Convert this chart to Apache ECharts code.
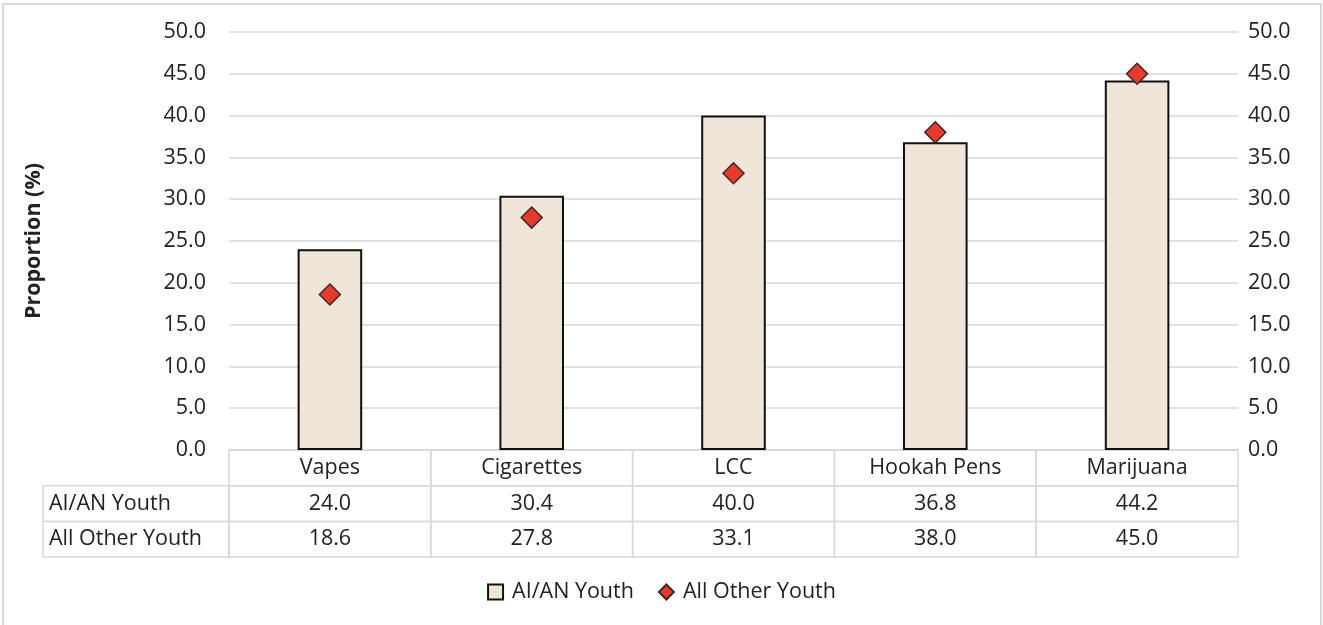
<!DOCTYPE html>
<html>
<head>
<meta charset="utf-8">
<script src="https://cdn.jsdelivr.net/npm/echarts@6/dist/echarts.min.js"></script>
<style>
  html, body { margin: 0; padding: 0; background: #fff; }
  #chart { width: 1323px; height: 625px; }
</style>
</head>
<body>
<div id="chart"></div>
<script>
// Substance categories and the two youth groups' proportions (%)
const categories = ['Vapes', 'Cigarettes', 'LCC', 'Hookah Pens', 'Marijuana'];
const aianYouth = [24.0, 30.4, 40.0, 36.8, 44.2];
const otherYouth = [18.6, 27.8, 33.1, 38.0, 45.0];
const seriesNames = ['AI/AN Youth', 'All Other Youth'];
const yMin = 0, yMax = 50, yStep = 5;

const FONT = 'Open Sans';
const TEXT = '#222222';
const LINE = '#d9d9d9';
const FS = 21.5;

const chart = echarts.init(document.getElementById('chart'), null, { renderer: 'canvas' });

const valueAxis = (pos, withGrid) => ({
  type: 'value', position: pos, min: yMin, max: yMax, interval: yStep,
  axisLine: { show: false }, axisTick: { show: false },
  axisLabel: {
    formatter: v => v.toFixed(1), color: TEXT, fontFamily: FONT, fontSize: FS,
    margin: pos === 'left' ? 23 : 10
  },
  splitLine: { show: withGrid, lineStyle: { color: LINE, width: 1.5 } }
});

chart.setOption({
  animation: false,
  textStyle: { fontFamily: FONT },
  grid: { left: 229, right: 85, top: 32, height: 418 },
  xAxis: {
    type: 'category', data: categories,
    axisLine: { show: false }, axisTick: { show: false }, axisLabel: { show: false }
  },
  yAxis: [
    Object.assign(valueAxis('left', true), {
      name: 'Proportion (%)', nameLocation: 'middle', nameGap: 184,
      nameTextStyle: { fontFamily: FONT, fontSize: FS, fontWeight: 'bold', color: TEXT }
    }),
    valueAxis('right', false)
  ],
  legend: {
    top: 576, left: 'center', itemWidth: 15, itemHeight: 15, itemGap: 24,
    textStyle: { fontFamily: FONT, fontSize: FS, color: TEXT, padding: [0, 0, 0, 4] },
    data: [
      { name: seriesNames[0], icon: 'rect' },
      { name: seriesNames[1], icon: 'diamond' }
    ]
  },
  series: [
    {
      name: seriesNames[0], type: 'bar', data: aianYouth, barWidth: '32%',
      itemStyle: { color: '#efe6d9', borderColor: '#111111', borderWidth: 2 },
      z: 2
    },
    {
      name: seriesNames[1], type: 'scatter', data: otherYouth,
      symbol: 'diamond', symbolSize: 21,
      itemStyle: { color: '#e8392a', borderColor: '#3a2a28', borderWidth: 1.5, opacity: 1 },
      z: 5
    }
  ]
});

// Data table under the plot, aligned to the category axis
function buildTable() {
  const centers = categories.map(c => chart.convertToPixel({ xAxisIndex: 0 }, c));
  const band = centers[1] - centers[0];
  const left = centers[0] - band / 2;
  const top = chart.convertToPixel({ yAxisIndex: 0 }, yMin);
  const rowH = 35.7;
  const labelLeft = 43;
  const els = [];
  const lineStyle = { stroke: LINE, lineWidth: 1.5, fill: null };
  const cell = (x, y, w, h) => els.push({
    type: 'rect', shape: { x, y, width: w, height: h }, style: lineStyle, silent: true
  });
  const txt = (x, y, s, align) => els.push({
    type: 'text', x, y, silent: true,
    style: { text: s, fill: TEXT, font: FS + 'px "' + FONT + '"', align: align, verticalAlign: 'middle' }
  });
  // header row with category names
  centers.forEach((cx, i) => {
    cell(cx - band / 2, top, band, rowH);
    txt(cx, top + rowH / 2, categories[i], 'center');
  });
  // value rows
  [aianYouth, otherYouth].forEach((vals, r) => {
    const y = top + rowH * (r + 1);
    cell(labelLeft, y, left - labelLeft, rowH);
    txt(labelLeft + 6, y + rowH / 2, seriesNames[r], 'left');
    vals.forEach((v, i) => {
      cell(centers[i] - band / 2, y, band, rowH);
      txt(centers[i], y + rowH / 2, v.toFixed(1), 'center');
    });
  });
  // chart frame
  els.push({ type: 'rect', shape: { x: 3, y: 4, width: 1318, height: 630 },
    style: { stroke: LINE, lineWidth: 2, fill: null }, silent: true, z: -1 });
  chart.setOption({ graphic: { elements: els } });
}
buildTable();
</script>
</body>
</html>
